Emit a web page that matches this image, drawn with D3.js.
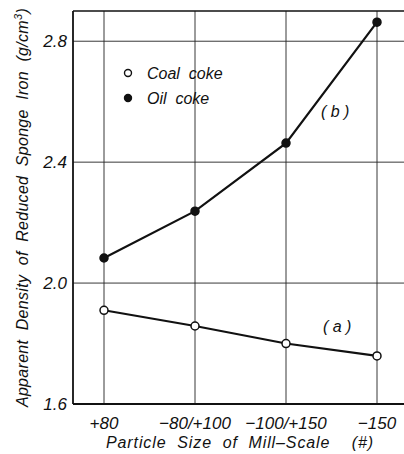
<!DOCTYPE html>
<html>
<head>
<meta charset="utf-8">
<script src="https://cdn.jsdelivr.net/npm/d3@7"></script>
<style>
  body { margin: 0; background: #fff; }
  svg { display: block; }
  text { font-family: "Liberation Sans", "DejaVu Sans", sans-serif; font-style: italic; fill: #111; }
</style>
</head>
<body>
<svg class="chart" width="404" height="454"></svg>
<script>
const categories = ['+80', '-80/+100', '-100/+150', '-150']
const coalCoke = [1.91, 1.858, 1.80, 1.759]
const oilCoke = [2.083, 2.238, 2.463, 2.863]
const yTicks = [1.6, 2.0, 2.4, 2.8]
const yTickLabels = ['1.6', '2.0', '2.4', '2.8']

const margin = { top: 11, right: 0, bottom: 50, left: 73 }
const width = 404
const height = 454

const svg = d3.select('svg.chart')

// category band: step ~91px, first point ~31px in from the left frame
const x = d3.scalePoint()
  .domain(categories)
  .range([104, 377])

const y = d3.scaleLinear()
  .domain([1.6, 2.9])
  .range([404, margin.top])

const g = svg.append('g')

// grid
g.selectAll('line.vgrid').data(categories).enter().append('line')
  .attr('class', 'vgrid')
  .attr('x1', d => x(d)).attr('x2', d => x(d))
  .attr('y1', y(2.9)).attr('y2', y(1.6))
  .attr('stroke', '#222').attr('stroke-width', 0.9)

g.selectAll('line.hgrid').data(yTicks.slice(1)).enter().append('line')
  .attr('class', 'hgrid')
  .attr('x1', margin.left).attr('x2', width)
  .attr('y1', d => y(d)).attr('y2', d => y(d))
  .attr('stroke', '#222').attr('stroke-width', 0.9)

// frame
g.append('line')
  .attr('x1', margin.left).attr('x2', width)
  .attr('y1', y(2.9)).attr('y2', y(2.9))
  .attr('stroke', '#111').attr('stroke-width', 1.6)
g.append('line')
  .attr('x1', margin.left).attr('x2', width)
  .attr('y1', y(1.6)).attr('y2', y(1.6))
  .attr('stroke', '#111').attr('stroke-width', 1.8)
g.append('line')
  .attr('x1', margin.left).attr('x2', margin.left)
  .attr('y1', y(2.9)).attr('y2', y(1.6))
  .attr('stroke', '#111').attr('stroke-width', 1.8)

// tick labels
g.selectAll('text.ytick').data(yTicks).enter().append('text')
  .attr('class', 'ytick')
  .attr('x', 67)
  .attr('y', d => y(d) + 6)
  .attr('text-anchor', 'end')
  .attr('font-size', 17)
  .text((d, i) => yTickLabels[i])

g.selectAll('text.xtick').data(categories).enter().append('text')
  .attr('class', 'xtick')
  .attr('x', d => x(d))
  .attr('y', 429)
  .attr('text-anchor', 'middle')
  .attr('font-size', 17)
  .text(d => d.replace(/-/g, '\u2212'))

// axis titles
svg.append('text')
  .attr('x', 240).attr('y', 448)
  .attr('text-anchor', 'middle')
  .attr('font-size', 16)
  .attr('letter-spacing', 0.9)
  .attr('xml:space', 'preserve')
  .text('Particle  Size  of  Mill\u2013Scale    (#)')

svg.append('text')
  .attr('transform', `translate(28, ${y(2.25)}) rotate(-90)`)
  .attr('text-anchor', 'middle')
  .attr('font-size', 16)
  .attr('letter-spacing', 0.3)
  .attr('xml:space', 'preserve')
  .html('Apparent  Density  of  Reduced  Sponge  Iron  (g/cm<tspan dy="-6" font-size="11">3</tspan><tspan dy="6">)</tspan>')

// lines
const line = d3.line()
  .x((d, i) => x(categories[i]))
  .y(d => y(d))

const series = [
  { name: 'coal', values: coalCoke, fill: '#fff' },
  { name: 'oil', values: oilCoke, fill: '#111' }
]

series.forEach(s => {
  g.append('path')
    .datum(s.values)
    .attr('d', line)
    .attr('fill', 'none')
    .attr('stroke', '#111')
    .attr('stroke-width', 2.2)
  g.selectAll(`circle.${s.name}`).data(s.values).enter().append('circle')
    .attr('class', s.name)
    .attr('cx', (d, i) => x(categories[i]))
    .attr('cy', d => y(d))
    .attr('r', 4)
    .attr('fill', s.fill)
    .attr('stroke', '#111')
    .attr('stroke-width', 1.5)
})

// curve labels
g.append('text').attr('x', 323).attr('y', 332).attr('font-size', 16)
  .attr('xml:space', 'preserve').text('( a )')
g.append('text').attr('x', 321).attr('y', 117).attr('font-size', 16)
  .attr('xml:space', 'preserve').text('( b )')

// legend
const legend = [
  { label: 'Coal  coke', fill: '#fff' },
  { label: 'Oil  coke', fill: '#111' }
]
const lg = g.selectAll('g.legend').data(legend).enter().append('g')
  .attr('class', 'legend')
  .attr('transform', (d, i) => `translate(128, ${73 + i * 25})`)
lg.append('circle')
  .attr('r', 3.5)
  .attr('fill', d => d.fill)
  .attr('stroke', '#111')
  .attr('stroke-width', 1.4)
lg.append('text')
  .attr('x', 19).attr('y', 6)
  .attr('font-size', 16)
  .attr('xml:space', 'preserve')
  .text(d => d.label)
</script>
</body>
</html>
